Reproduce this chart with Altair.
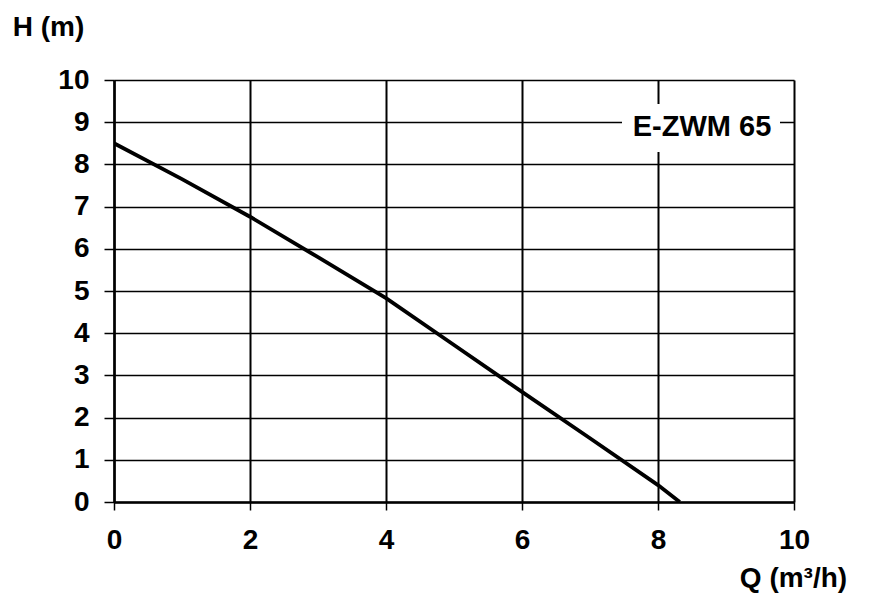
import altair as alt
import pandas as pd

# Pump curve E-ZWM 65
q_values = [0, 1, 2, 3, 4, 5, 6, 7, 8, 8.32]
h_values = [8.5, 7.65, 6.76, 5.8, 4.83, 3.72, 2.61, 1.51, 0.4, 0.0]
x_ticks = [0, 2, 4, 6, 8, 10]
y_ticks = [0, 1, 2, 3, 4, 5, 6, 7, 8, 9, 10]
curve_label = "E-ZWM 65"
x_title = "Q (m³/h)"
y_title = "H (m)"

df = pd.DataFrame({"Q": q_values, "H": h_values})

FONT = "Liberation Sans"

x_axis = alt.Axis(
    values=x_ticks, grid=True, gridColor="black", gridWidth=2, gridOpacity=1,
    domainColor="black", domainWidth=2.5, tickColor="black", tickSize=8, tickWidth=1.5,
    labelFont=FONT, labelFontSize=28, labelFontWeight="bold", labelColor="black",
    labelPadding=16, labelBaseline="top", labelFlush=False,
    title=x_title, titleFont=FONT, titleFontSize=28, titleFontWeight="bold",
    titleColor="black", titleX=679, titleY=76, titleAlign="center", titleBaseline="middle",
)
y_axis = alt.Axis(
    values=y_ticks, grid=True, gridColor="black", gridWidth=1.5, gridOpacity=1,
    domainColor="black", domainWidth=2.5, tickColor="black", tickSize=10, tickWidth=1.5,
    labelFont=FONT, labelFontSize=28, labelFontWeight="bold", labelColor="black",
    labelPadding=15, labelFlush=False,
    title=y_title, titleFont=FONT, titleFontSize=28, titleFontWeight="bold",
    titleColor="black", titleAngle=0, titleX=-66, titleY=-53, titleAlign="center",
    titleBaseline="middle",
)

line = alt.Chart(df).mark_line(color="black", strokeWidth=3.8, clip=True).encode(
    x=alt.X("Q:Q", scale=alt.Scale(domain=[0, 10], nice=False), axis=x_axis),
    y=alt.Y("H:Q", scale=alt.Scale(domain=[0, 10], nice=False), axis=y_axis),
)

label_df = pd.DataFrame({"label": [curve_label]})
box = alt.Chart(label_df).mark_rect(color="white").encode(
    x=alt.value(508), x2=alt.value(666), y=alt.value(24), y2=alt.value(72)
)
text = alt.Chart(label_df).mark_text(
    font=FONT, fontSize=29, fontWeight="bold", color="black",
    align="center", baseline="middle",
).encode(x=alt.value(588), y=alt.value(47), text="label:N")

chart = alt.layer(line, box, text).properties(
    width=680, height=422,
    padding={"left": 106, "top": 72, "right": 60, "bottom": 96},
    autosize=alt.AutoSizeParams(type="none"),
).configure_view(stroke=None).configure(background="white")

chart.save("out.html", embed_options={"renderer": "svg", "actions": False})
